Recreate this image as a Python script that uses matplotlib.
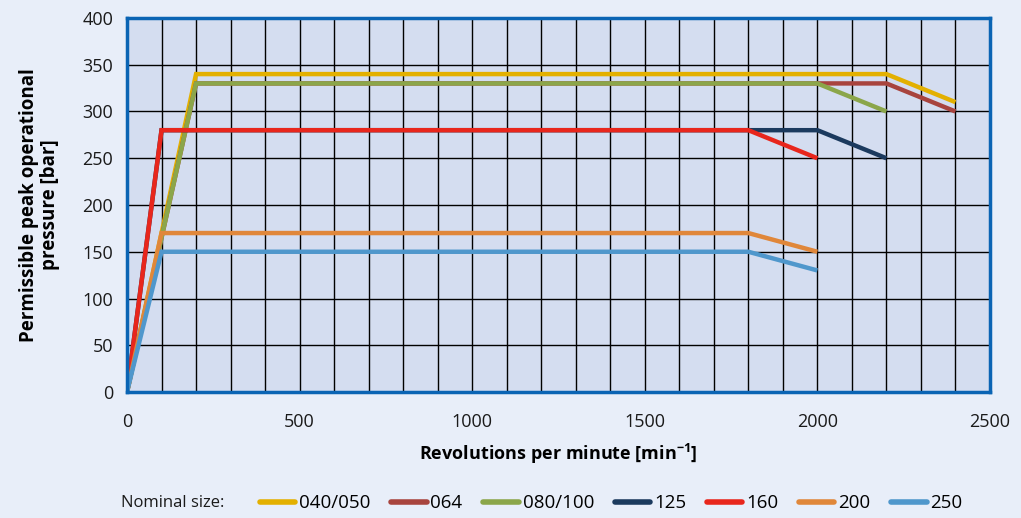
import matplotlib
matplotlib.use("Agg")
import matplotlib.pyplot as plt

plt.rcParams['font.family'] = ['Open Sans', 'DejaVu Sans']

# rpm / pressure points for each nominal size
sizes = ["040/050", "064", "080/100", "125", "160", "200", "250"]
rpm = {
    "040/050": [0, 200, 2200, 2400],
    "064":     [0, 200, 2200, 2400],
    "080/100": [0, 200, 2000, 2200],
    "125":     [0, 100, 2000, 2200],
    "160":     [0, 100, 1800, 2000],
    "200":     [0, 100, 1800, 2000],
    "250":     [0, 100, 1800, 2000],
}
pressure = {
    "040/050": [0, 340, 340, 310],
    "064":     [0, 330, 330, 300],
    "080/100": [0, 330, 330, 300],
    "125":     [0, 280, 280, 250],
    "160":     [0, 280, 280, 250],
    "200":     [0, 170, 170, 150],
    "250":     [0, 150, 150, 130],
}
colors = ["#e3b000", "#a8443e", "#8ba64a", "#1b3a5e", "#e8261c", "#e0873a", "#4f97cc"]

bg = "#e8eef9"
fig = plt.figure(figsize=(10.21, 5.18), dpi=100, facecolor=bg)
ax = fig.add_axes([0.1244, 0.2432, 0.8452, 0.7221])
ax.set_facecolor("#d4ddf0")

for s, c in zip(sizes, colors):
    ax.plot(rpm[s], pressure[s], color=c, lw=3.2, label=s,
            solid_joinstyle="miter", solid_capstyle="butt", zorder=3)

ax.set_xlim(0, 2500)
ax.set_ylim(0, 400)
ax.set_xticks(range(0, 2501, 500))
ax.set_yticks(range(0, 401, 50))
ax.set_xticks(range(0, 2501, 100), minor=True)
ax.grid(True, which="both", color="black", lw=1.0, zorder=1)
ax.set_axisbelow(True)
ax.tick_params(which="both", length=0, labelsize=13, colors="#1a1a1a")
ax.tick_params(axis="x", pad=15)
ax.tick_params(axis="y", pad=10)

for sp in ax.spines.values():
    sp.set_color("#0a64b4")
    sp.set_linewidth(2.5)
    sp.set_zorder(5)

ax.set_xlabel(r"Revolutions per minute [min$^{\mathregular{-1}}$]",
              fontsize=13, fontweight="bold", labelpad=8)
ax.set_ylabel("Permissible peak operational\npressure [bar]",
              fontsize=13.5, fontweight="bold", labelpad=16, linespacing=1.1)

fig.text(0.119, 0.028, "Nominal size:", fontsize=12, va="center", ha="left",
         color="#1a1a1a")
handles, labels = ax.get_legend_handles_labels()
leg = fig.legend(handles, labels, loc="center left", bbox_to_anchor=(0.247, 0.028),
                 ncol=7, frameon=False, fontsize=13.5, handlelength=1.9,
                 handletextpad=0.2, columnspacing=1.1, borderaxespad=0)
for h in leg.get_lines():
    h.set_linewidth(4)
    h.set_solid_capstyle("round")

fig.savefig("out.png", dpi=100, facecolor=bg)
